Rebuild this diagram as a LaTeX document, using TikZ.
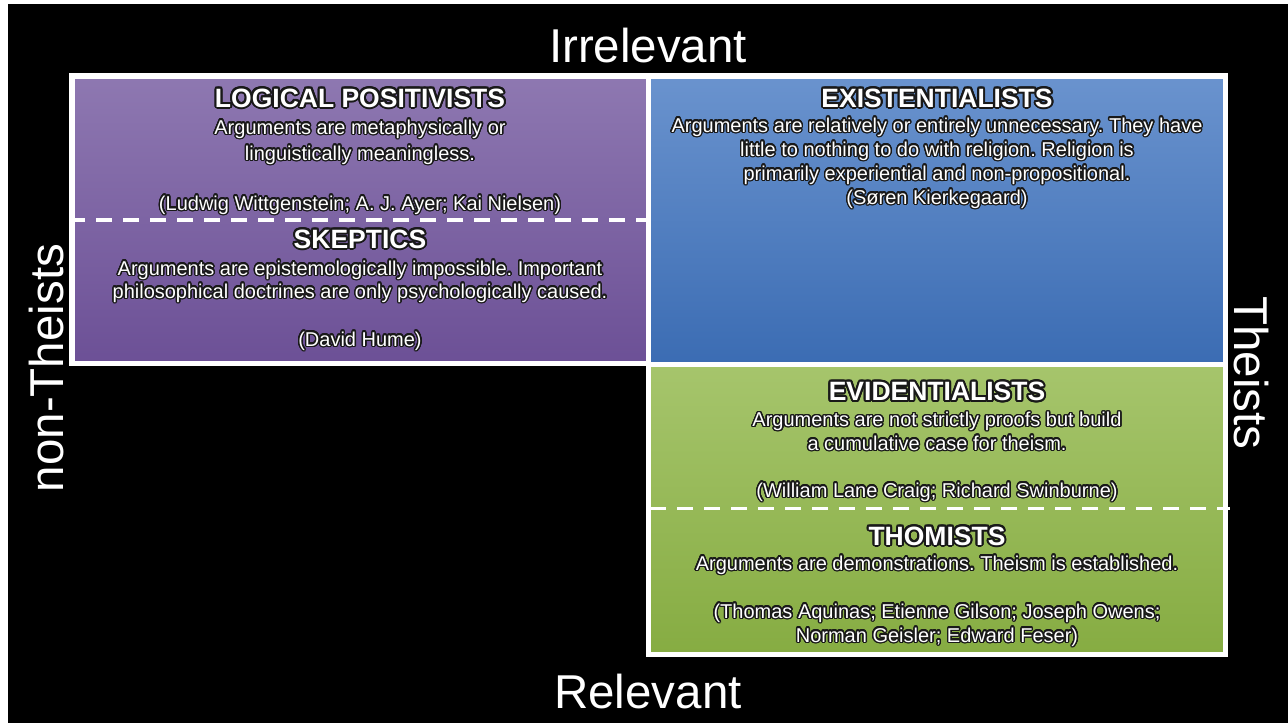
\documentclass[tikz,border=0pt]{standalone}
\usepackage{fontspec}
\setmainfont{Liberation Sans}
\frenchspacing
\definecolor{glowc}{RGB}{25,25,25}
\newif\ifglow
\IfFileExists{contour.sty}{\glowtrue}{\glowfalse}
\ifglow
  \usepackage{contour}
  \contourlength{1.4pt}
  \contournumber{20}
\fi
\newcommand\gl[1]{\ifglow\contour{glowc}{#1}\else#1\fi}
\newcommand\glt[1]{\ifglow{\contourlength{2pt}\contour{glowc}{#1}}\else#1\fi}
\definecolor{pTop}{RGB}{142,120,177}
\definecolor{pBot}{RGB}{108,80,150}
\definecolor{bTop}{RGB}{106,147,206}
\definecolor{bBot}{RGB}{59,108,179}
\definecolor{gTop}{RGB}{166,197,108}
\definecolor{gBot}{RGB}{134,172,66}
\tikzset{
  axislabel/.style={text=white,inner sep=0pt,anchor=base,font=\fontsize{47.5}{50}\selectfont},
  ttl/.style={text=white,inner sep=0pt,anchor=base,font=\bfseries\fontsize{26.5}{30}\selectfont},
  body/.style={text=white,inner sep=0pt,anchor=base,align=center,font=\fontsize{20}{#1}\selectfont},
  body/.default=24,
  frame/.style={draw=white,line width=5.5pt},
  divider/.style={draw=white,line width=3.5pt,dash pattern=on 16pt off 11pt}
}
\begin{document}
\begin{tikzpicture}[x=1pt,y=1pt]
\useasboundingbox (0,0) rectangle (1288,-723);
\fill[white] (0,0) rectangle (1288,-723);
\fill[black] (7.5,-4) rectangle (1288,-723);
% quadrant fills
\shade[top color=pTop,bottom color=pBot] (72,-76) rectangle (648.5,-363.5);
\shade[top color=bTop,bottom color=bBot] (648.5,-76) rectangle (1225.5,-364.5);
\shade[top color=gTop,bottom color=gBot] (648.5,-364.5) rectangle (1225.5,-654.5);
% frames
\path[frame] (72,-76) rectangle (648.5,-363.5);
\path[frame] (648.5,-76) rectangle (1225.5,-364.5);
\path[frame] (648.5,-364.5) rectangle (1225.5,-654.5);
% dividers
\coordinate (d1a) at (69,-220);
\coordinate (d1b) at (648,-220);
\coordinate (d2a) at (650,-508);
\coordinate (d2b) at (1230,-508);
\path[divider] (d1a) -- (d1b);
\path[divider,line width=3pt] (d2a) -- (d2b);
% axis labels
\node[axislabel] (irr) at (648,-62) {Irrelevant};
\node[axislabel] (rel) at (648,-708) {Relevant};
\node[axislabel,rotate=90] (non) at (63,-368) {non-Theists};
\node[axislabel,rotate=-90] (the) at (1234,-373) {Theists};
% logical positivists (multi-line nodes: base = last line)
\node[ttl] (lpT) at (360,-107) {\glt{LOGICAL POSITIVISTS}};
\node[body=26] (lpD) at (360,-160) {\gl{Arguments are metaphysically or}\\\gl{linguistically meaningless.}};
\node[body] (lpN) at (360,-210) {\gl{(Ludwig Wittgenstein; A. J. Ayer; Kai Nielsen)}};
% skeptics
\node[ttl] (skT) at (360,-248) {\glt{SKEPTICS}};
\node[body=23] (skD) at (360,-298) {\gl{Arguments are epistemologically impossible. Important}\\\gl{philosophical doctrines are only psychologically caused.}};
\node[body] (skN) at (360,-346) {\gl{(David Hume)}};
% existentialists
\node[ttl] (exT) at (937,-107) {\glt{EXISTENTIALISTS}};
\node[body=24] (exD) at (937,-204) {\gl{Arguments are relatively or entirely unnecessary. They have}\\\gl{little to nothing to do with religion. Religion is}\\\gl{primarily experiential and non-propositional.}\\\gl{(Søren Kierkegaard)}};
% evidentialists
\node[ttl] (evT) at (937,-400.5) {\glt{EVIDENTIALISTS}};
\node[body=23.5] (evD) at (937,-450) {\gl{Arguments are not strictly proofs but build}\\\gl{a cumulative case for theism.}};
\node[body] (evN) at (937,-497) {\gl{(William Lane Craig; Richard Swinburne)}};
% thomists
\node[ttl] (thT) at (937,-545) {\glt{THOMISTS}};
\node[body] (thD) at (937,-570) {\gl{Arguments are demonstrations. Theism is established.}};
\node[body=24] (thN) at (937,-642) {\gl{(Thomas Aquinas; Etienne Gilson; Joseph Owens;}\\\gl{Norman Geisler; Edward Feser)}};
\end{tikzpicture}
\end{document}
